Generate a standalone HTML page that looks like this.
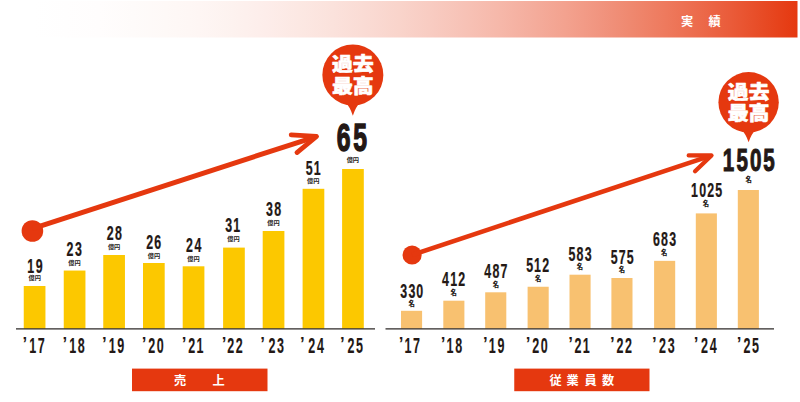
<!DOCTYPE html>
<html lang="ja">
<head>
<meta charset="utf-8">
<title>実績</title>
<style>
html,body{margin:0;padding:0;background:#fff;}
body{width:800px;height:402px;overflow:hidden;font-family:"Liberation Sans","Noto Sans CJK JP",sans-serif;}
svg{display:block;}
</style>
</head>
<body>
<svg width="800" height="402" viewBox="0 0 800 402">
<defs>
<linearGradient id="hg" x1="0" y1="0" x2="797.5" y2="0" gradientUnits="userSpaceOnUse">
<stop offset="0.0000" stop-color="#ffffff"/>
<stop offset="0.0417" stop-color="#ffffff"/>
<stop offset="0.0833" stop-color="#fffefe"/>
<stop offset="0.1250" stop-color="#fffdfd"/>
<stop offset="0.1667" stop-color="#fefbfa"/>
<stop offset="0.2083" stop-color="#fef9f7"/>
<stop offset="0.2500" stop-color="#fef6f4"/>
<stop offset="0.2917" stop-color="#fdf2ef"/>
<stop offset="0.3333" stop-color="#fdedea"/>
<stop offset="0.3750" stop-color="#fce8e3"/>
<stop offset="0.4167" stop-color="#fbe2dc"/>
<stop offset="0.4583" stop-color="#fadbd4"/>
<stop offset="0.5000" stop-color="#f9d4cb"/>
<stop offset="0.5417" stop-color="#f8cbc1"/>
<stop offset="0.5833" stop-color="#f7c2b6"/>
<stop offset="0.6250" stop-color="#f6b8aa"/>
<stop offset="0.6667" stop-color="#f4ad9d"/>
<stop offset="0.7083" stop-color="#f3a28f"/>
<stop offset="0.7500" stop-color="#f19580"/>
<stop offset="0.7917" stop-color="#ef886f"/>
<stop offset="0.8333" stop-color="#ee7a5e"/>
<stop offset="0.8750" stop-color="#ec6b4c"/>
<stop offset="0.9167" stop-color="#ea5b39"/>
<stop offset="0.9583" stop-color="#e74a24"/>
<stop offset="1.0000" stop-color="#e5380f"/>
</linearGradient>
</defs>
<rect x="0" y="1" width="797.5" height="36.5" fill="url(#hg)"/>
<text x="681.00 708.50" y="26.20" font-family='"Liberation Sans", "Noto Sans CJK JP", sans-serif' font-weight="bold" font-size="12.2" fill="#fff">実績</text>
<rect x="23.75" y="286.0" width="21.7" height="43.00" fill="#fcc800"/>
<rect x="63.75" y="270.55" width="21.7" height="58.45" fill="#fcc800"/>
<rect x="103.25" y="255.0" width="21.7" height="74.00" fill="#fcc800"/>
<rect x="143.00" y="263.0" width="21.7" height="66.00" fill="#fcc800"/>
<rect x="182.70" y="266.3" width="21.7" height="62.70" fill="#fcc800"/>
<rect x="223.10" y="247.6" width="21.7" height="81.40" fill="#fcc800"/>
<rect x="262.70" y="231.0" width="21.7" height="98.00" fill="#fcc800"/>
<rect x="302.60" y="188.8" width="21.7" height="140.20" fill="#fcc800"/>
<rect x="342.10" y="169.0" width="21.7" height="160.00" fill="#fcc800"/>
<rect x="16" y="328.2" width="359" height="1.35" fill="#3e3a39"/>
<text transform="translate(0,273.25) scale(0.63,1)" x="43.29 56.67" font-family='"Liberation Sans", sans-serif' font-weight="bold" font-size="19.7" fill="#231815" stroke="#231815" stroke-width="0.2" style="vector-effect:non-scaling-stroke">19</text>
<text transform="translate(34.65,279.75) scale(1,1)" text-anchor="middle" font-family='"Liberation Sans", "Noto Sans CJK JP", sans-serif' font-weight="bold" font-size="6.2" fill="#231815">億円</text>
<text transform="translate(0,256.00) scale(0.63,1)" x="105.71 119.08" font-family='"Liberation Sans", sans-serif' font-weight="bold" font-size="19.7" fill="#231815" stroke="#231815" stroke-width="0.2" style="vector-effect:non-scaling-stroke">23</text>
<text transform="translate(74.40,265.05) scale(1,1)" text-anchor="middle" font-family='"Liberation Sans", "Noto Sans CJK JP", sans-serif' font-weight="bold" font-size="6.2" fill="#231815">億円</text>
<text transform="translate(0,240.05) scale(0.63,1)" x="169.31 182.51" font-family='"Liberation Sans", sans-serif' font-weight="bold" font-size="19.7" fill="#231815" stroke="#231815" stroke-width="0.2" style="vector-effect:non-scaling-stroke">28</text>
<text transform="translate(114.10,249.25) scale(1,1)" text-anchor="middle" font-family='"Liberation Sans", "Noto Sans CJK JP", sans-serif' font-weight="bold" font-size="6.2" fill="#231815">億円</text>
<text transform="translate(0,248.75) scale(0.63,1)" x="231.96 245.05" font-family='"Liberation Sans", sans-serif' font-weight="bold" font-size="19.7" fill="#231815" stroke="#231815" stroke-width="0.2" style="vector-effect:non-scaling-stroke">26</text>
<text transform="translate(154.00,257.95) scale(1,1)" text-anchor="middle" font-family='"Liberation Sans", "Noto Sans CJK JP", sans-serif' font-weight="bold" font-size="6.2" fill="#231815">億円</text>
<text transform="translate(0,252.05) scale(0.63,1)" x="295.09 308.61" font-family='"Liberation Sans", sans-serif' font-weight="bold" font-size="19.7" fill="#231815" stroke="#231815" stroke-width="0.2" style="vector-effect:non-scaling-stroke">24</text>
<text transform="translate(193.55,260.95) scale(1,1)" text-anchor="middle" font-family='"Liberation Sans", "Noto Sans CJK JP", sans-serif' font-weight="bold" font-size="6.2" fill="#231815">億円</text>
<text transform="translate(0,231.90) scale(0.63,1)" x="357.61 370.26" font-family='"Liberation Sans", sans-serif' font-weight="bold" font-size="19.7" fill="#231815" stroke="#231815" stroke-width="0.2" style="vector-effect:non-scaling-stroke">31</text>
<text transform="translate(233.40,240.90) scale(1,1)" text-anchor="middle" font-family='"Liberation Sans", "Noto Sans CJK JP", sans-serif' font-weight="bold" font-size="6.2" fill="#231815">億円</text>
<text transform="translate(0,215.50) scale(0.63,1)" x="422.09 435.36" font-family='"Liberation Sans", sans-serif' font-weight="bold" font-size="19.7" fill="#231815" stroke="#231815" stroke-width="0.2" style="vector-effect:non-scaling-stroke">38</text>
<text transform="translate(273.50,224.50) scale(1,1)" text-anchor="middle" font-family='"Liberation Sans", "Noto Sans CJK JP", sans-serif' font-weight="bold" font-size="6.2" fill="#231815">億円</text>
<text transform="translate(0,175.00) scale(0.63,1)" x="485.39 498.20" font-family='"Liberation Sans", sans-serif' font-weight="bold" font-size="19.7" fill="#231815" stroke="#231815" stroke-width="0.2" style="vector-effect:non-scaling-stroke">51</text>
<text transform="translate(313.30,183.40) scale(1,1)" text-anchor="middle" font-family='"Liberation Sans", "Noto Sans CJK JP", sans-serif' font-weight="bold" font-size="6.2" fill="#231815">億円</text>
<text transform="translate(0,150.50) scale(0.635,1)" x="530.39 556.24" font-family='"Liberation Sans", sans-serif' font-weight="bold" font-size="39.0" fill="#231815" stroke="#231815" stroke-width="1.2" style="vector-effect:non-scaling-stroke">65</text>
<text transform="translate(352.85,162.00) scale(1,1)" text-anchor="middle" font-family='"Liberation Sans", "Noto Sans CJK JP", sans-serif' font-weight="bold" font-size="6.2" fill="#231815">億円</text>
<text transform="translate(0,350.30) scale(0.95,1)" x="23.80" font-family='"Liberation Sans", sans-serif' font-weight="bold" font-size="17.6" fill="#231815">’</text>
<text transform="translate(0,352.90) scale(0.585,1)" x="49.93 64.42" font-family='"Liberation Sans", sans-serif' font-weight="bold" font-size="21.4" fill="#231815" stroke="#231815" stroke-width="0.1" style="vector-effect:non-scaling-stroke">17</text>
<text transform="translate(0,350.30) scale(0.95,1)" x="65.91" font-family='"Liberation Sans", sans-serif' font-weight="bold" font-size="17.6" fill="#231815">’</text>
<text transform="translate(0,352.90) scale(0.585,1)" x="118.31 133.04" font-family='"Liberation Sans", sans-serif' font-weight="bold" font-size="21.4" fill="#231815" stroke="#231815" stroke-width="0.1" style="vector-effect:non-scaling-stroke">18</text>
<text transform="translate(0,350.30) scale(0.95,1)" x="107.49" font-family='"Liberation Sans", sans-serif' font-weight="bold" font-size="17.6" fill="#231815">’</text>
<text transform="translate(0,352.90) scale(0.585,1)" x="185.83 200.50" font-family='"Liberation Sans", sans-serif' font-weight="bold" font-size="21.4" fill="#231815" stroke="#231815" stroke-width="0.1" style="vector-effect:non-scaling-stroke">19</text>
<text transform="translate(0,350.30) scale(0.95,1)" x="149.33" font-family='"Liberation Sans", sans-serif' font-weight="bold" font-size="17.6" fill="#231815">’</text>
<text transform="translate(0,352.90) scale(0.585,1)" x="253.53 267.83" font-family='"Liberation Sans", sans-serif' font-weight="bold" font-size="21.4" fill="#231815" stroke="#231815" stroke-width="0.1" style="vector-effect:non-scaling-stroke">20</text>
<text transform="translate(0,350.30) scale(0.95,1)" x="191.44" font-family='"Liberation Sans", sans-serif' font-weight="bold" font-size="17.6" fill="#231815">’</text>
<text transform="translate(0,352.90) scale(0.585,1)" x="321.91 335.71" font-family='"Liberation Sans", sans-serif' font-weight="bold" font-size="21.4" fill="#231815" stroke="#231815" stroke-width="0.1" style="vector-effect:non-scaling-stroke">21</text>
<text transform="translate(0,350.30) scale(0.95,1)" x="233.54" font-family='"Liberation Sans", sans-serif' font-weight="bold" font-size="17.6" fill="#231815">’</text>
<text transform="translate(0,352.90) scale(0.585,1)" x="388.49 402.89" font-family='"Liberation Sans", sans-serif' font-weight="bold" font-size="21.4" fill="#231815" stroke="#231815" stroke-width="0.1" style="vector-effect:non-scaling-stroke">22</text>
<text transform="translate(0,350.30) scale(0.95,1)" x="273.86" font-family='"Liberation Sans", sans-serif' font-weight="bold" font-size="17.6" fill="#231815">’</text>
<text transform="translate(0,352.90) scale(0.585,1)" x="458.92 473.57" font-family='"Liberation Sans", sans-serif' font-weight="bold" font-size="21.4" fill="#231815" stroke="#231815" stroke-width="0.1" style="vector-effect:non-scaling-stroke">23</text>
<text transform="translate(0,350.30) scale(0.95,1)" x="315.91" font-family='"Liberation Sans", sans-serif' font-weight="bold" font-size="17.6" fill="#231815">’</text>
<text transform="translate(0,352.90) scale(0.585,1)" x="527.04 541.86" font-family='"Liberation Sans", sans-serif' font-weight="bold" font-size="21.4" fill="#231815" stroke="#231815" stroke-width="0.1" style="vector-effect:non-scaling-stroke">24</text>
<text transform="translate(0,350.30) scale(0.95,1)" x="358.02" font-family='"Liberation Sans", sans-serif' font-weight="bold" font-size="17.6" fill="#231815">’</text>
<text transform="translate(0,352.90) scale(0.585,1)" x="594.13 608.62" font-family='"Liberation Sans", sans-serif' font-weight="bold" font-size="21.4" fill="#231815" stroke="#231815" stroke-width="0.1" style="vector-effect:non-scaling-stroke">25</text>
<rect x="132" y="368.6" width="135.5" height="22.6" fill="#e5380f"/>
<text x="174.00 212.50" y="384.60" font-family='"Liberation Sans", "Noto Sans CJK JP", sans-serif' font-weight="bold" font-size="12.2" fill="#fff">売上</text>
<circle cx="32.4" cy="231.0" r="10.8" fill="#e5380f"/>
<line x1="32.5" y1="228.7" x2="314.70" y2="137.02" stroke="#e5380f" stroke-width="5.0" stroke-linecap="butt"/>
<polyline points="296.92,152.62 316.6,136.4 291.15,134.84" fill="none" stroke="#e5380f" stroke-width="4.7" stroke-linecap="round" stroke-linejoin="round"/>
<circle cx="352.85" cy="75.0" r="30.5" fill="#e5380f"/>
<path d="M345.35 102.50 Q349.95 106.50 352.85 115.8 Q355.75 106.50 360.35 102.50 Z" fill="#e5380f"/>
<text transform="translate(352.85,71.40) scale(1.07,1)" text-anchor="middle" font-family='"Liberation Sans", "Noto Sans CJK JP", sans-serif' font-weight="900" font-size="19.6" fill="#fff" stroke="#fff" stroke-width="0.55" stroke-linejoin="round">過去</text>
<text transform="translate(352.85,92.70) scale(1.07,1)" text-anchor="middle" font-family='"Liberation Sans", "Noto Sans CJK JP", sans-serif' font-weight="900" font-size="19.6" fill="#fff" stroke="#fff" stroke-width="0.55" stroke-linejoin="round">最高</text>
<rect x="401.00" y="310.8" width="21.1" height="18.20" fill="#f8c170"/>
<rect x="443.30" y="300.7" width="21.1" height="28.30" fill="#f8c170"/>
<rect x="485.20" y="292.3" width="21.1" height="36.70" fill="#f8c170"/>
<rect x="527.60" y="286.75" width="21.1" height="42.25" fill="#f8c170"/>
<rect x="569.50" y="274.7" width="21.1" height="54.30" fill="#f8c170"/>
<rect x="611.40" y="278.0" width="21.1" height="51.00" fill="#f8c170"/>
<rect x="654.10" y="260.85" width="21.1" height="68.15" fill="#f8c170"/>
<rect x="695.80" y="213.4" width="21.1" height="115.60" fill="#f8c170"/>
<rect x="737.80" y="190.0" width="21.1" height="139.00" fill="#f8c170"/>
<rect x="385.5" y="328.2" width="388.5" height="1.35" fill="#3e3a39"/>
<text transform="translate(0,297.75) scale(0.63,1)" x="635.31 648.28 660.92" font-family='"Liberation Sans", sans-serif' font-weight="bold" font-size="19.7" fill="#231815" stroke="#231815" stroke-width="0.2" style="vector-effect:non-scaling-stroke">330</text>
<text transform="translate(411.70,305.95) scale(1,1)" text-anchor="middle" font-family='"Liberation Sans", "Noto Sans CJK JP", sans-serif' font-weight="900" font-size="6.3" fill="#231815">名</text>
<text transform="translate(0,286.20) scale(0.63,1)" x="701.77 714.55 727.45" font-family='"Liberation Sans", sans-serif' font-weight="bold" font-size="19.7" fill="#231815" stroke="#231815" stroke-width="0.2" style="vector-effect:non-scaling-stroke">412</text>
<text transform="translate(453.70,295.00) scale(1,1)" text-anchor="middle" font-family='"Liberation Sans", "Noto Sans CJK JP", sans-serif' font-weight="900" font-size="6.3" fill="#231815">名</text>
<text transform="translate(0,277.80) scale(0.63,1)" x="768.51 781.91 794.59" font-family='"Liberation Sans", sans-serif' font-weight="bold" font-size="19.7" fill="#231815" stroke="#231815" stroke-width="0.2" style="vector-effect:non-scaling-stroke">487</text>
<text transform="translate(496.00,286.90) scale(1,1)" text-anchor="middle" font-family='"Liberation Sans", "Noto Sans CJK JP", sans-serif' font-weight="900" font-size="6.3" fill="#231815">名</text>
<text transform="translate(0,272.25) scale(0.63,1)" x="835.33 847.67 860.57" font-family='"Liberation Sans", sans-serif' font-weight="bold" font-size="19.7" fill="#231815" stroke="#231815" stroke-width="0.2" style="vector-effect:non-scaling-stroke">512</text>
<text transform="translate(538.10,280.90) scale(1,1)" text-anchor="middle" font-family='"Liberation Sans", "Noto Sans CJK JP", sans-serif' font-weight="900" font-size="6.3" fill="#231815">名</text>
<text transform="translate(0,261.00) scale(0.63,1)" x="902.19 915.15 928.23" font-family='"Liberation Sans", sans-serif' font-weight="bold" font-size="19.7" fill="#231815" stroke="#231815" stroke-width="0.2" style="vector-effect:non-scaling-stroke">583</text>
<text transform="translate(579.85,269.20) scale(1,1)" text-anchor="middle" font-family='"Liberation Sans", "Noto Sans CJK JP", sans-serif' font-weight="900" font-size="6.3" fill="#231815">名</text>
<text transform="translate(0,263.70) scale(0.63,1)" x="969.34 982.07 994.73" font-family='"Liberation Sans", sans-serif' font-weight="bold" font-size="19.7" fill="#231815" stroke="#231815" stroke-width="0.2" style="vector-effect:non-scaling-stroke">575</text>
<text transform="translate(622.00,271.90) scale(1,1)" text-anchor="middle" font-family='"Liberation Sans", "Noto Sans CJK JP", sans-serif' font-weight="900" font-size="6.3" fill="#231815">名</text>
<text transform="translate(0,246.10) scale(0.63,1)" x="1036.35 1049.14 1062.21" font-family='"Liberation Sans", sans-serif' font-weight="bold" font-size="19.7" fill="#231815" stroke="#231815" stroke-width="0.2" style="vector-effect:non-scaling-stroke">683</text>
<text transform="translate(664.05,255.20) scale(1,1)" text-anchor="middle" font-family='"Liberation Sans", "Noto Sans CJK JP", sans-serif' font-weight="900" font-size="6.3" fill="#231815">名</text>
<text transform="translate(0,197.20) scale(0.63,1)" x="1096.99 1109.79 1122.43 1135.17" font-family='"Liberation Sans", sans-serif' font-weight="bold" font-size="19.7" fill="#231815" stroke="#231815" stroke-width="0.2" style="vector-effect:non-scaling-stroke">1025</text>
<text transform="translate(706.00,205.50) scale(1,1)" text-anchor="middle" font-family='"Liberation Sans", "Noto Sans CJK JP", sans-serif' font-weight="900" font-size="6.3" fill="#231815">名</text>
<text transform="translate(0,170.60) scale(0.66,1)" x="1095.26 1115.93 1136.33 1156.59" font-family='"Liberation Sans", sans-serif' font-weight="bold" font-size="31.2" fill="#231815" stroke="#231815" stroke-width="0.9" style="vector-effect:non-scaling-stroke">1505</text>
<text transform="translate(748.65,182.20) scale(1,1)" text-anchor="middle" font-family='"Liberation Sans", "Noto Sans CJK JP", sans-serif' font-weight="900" font-size="6.3" fill="#231815">名</text>
<text transform="translate(0,350.30) scale(0.95,1)" x="419.86" font-family='"Liberation Sans", sans-serif' font-weight="bold" font-size="17.6" fill="#231815">’</text>
<text transform="translate(0,352.90) scale(0.585,1)" x="691.47 705.96" font-family='"Liberation Sans", sans-serif' font-weight="bold" font-size="21.4" fill="#231815" stroke="#231815" stroke-width="0.1" style="vector-effect:non-scaling-stroke">17</text>
<text transform="translate(0,350.30) scale(0.95,1)" x="464.07" font-family='"Liberation Sans", sans-serif' font-weight="bold" font-size="17.6" fill="#231815">’</text>
<text transform="translate(0,352.90) scale(0.585,1)" x="763.27 778.00" font-family='"Liberation Sans", sans-serif' font-weight="bold" font-size="21.4" fill="#231815" stroke="#231815" stroke-width="0.1" style="vector-effect:non-scaling-stroke">18</text>
<text transform="translate(0,350.30) scale(0.95,1)" x="508.54" font-family='"Liberation Sans", sans-serif' font-weight="bold" font-size="17.6" fill="#231815">’</text>
<text transform="translate(0,352.90) scale(0.585,1)" x="835.57 850.24" font-family='"Liberation Sans", sans-serif' font-weight="bold" font-size="21.4" fill="#231815" stroke="#231815" stroke-width="0.1" style="vector-effect:non-scaling-stroke">19</text>
<text transform="translate(0,350.30) scale(0.95,1)" x="553.54" font-family='"Liberation Sans", sans-serif' font-weight="bold" font-size="17.6" fill="#231815">’</text>
<text transform="translate(0,352.90) scale(0.585,1)" x="910.03 924.33" font-family='"Liberation Sans", sans-serif' font-weight="bold" font-size="21.4" fill="#231815" stroke="#231815" stroke-width="0.1" style="vector-effect:non-scaling-stroke">20</text>
<text transform="translate(0,350.30) scale(0.95,1)" x="598.28" font-family='"Liberation Sans", sans-serif' font-weight="bold" font-size="17.6" fill="#231815">’</text>
<text transform="translate(0,352.90) scale(0.585,1)" x="982.16 995.96" font-family='"Liberation Sans", sans-serif' font-weight="bold" font-size="21.4" fill="#231815" stroke="#231815" stroke-width="0.1" style="vector-effect:non-scaling-stroke">21</text>
<text transform="translate(0,350.30) scale(0.95,1)" x="642.23" font-family='"Liberation Sans", sans-serif' font-weight="bold" font-size="17.6" fill="#231815">’</text>
<text transform="translate(0,352.90) scale(0.585,1)" x="1053.96 1068.36" font-family='"Liberation Sans", sans-serif' font-weight="bold" font-size="21.4" fill="#231815" stroke="#231815" stroke-width="0.1" style="vector-effect:non-scaling-stroke">22</text>
<text transform="translate(0,350.30) scale(0.95,1)" x="686.44" font-family='"Liberation Sans", sans-serif' font-weight="bold" font-size="17.6" fill="#231815">’</text>
<text transform="translate(0,352.90) scale(0.585,1)" x="1126.61 1141.26" font-family='"Liberation Sans", sans-serif' font-weight="bold" font-size="21.4" fill="#231815" stroke="#231815" stroke-width="0.1" style="vector-effect:non-scaling-stroke">23</text>
<text transform="translate(0,350.30) scale(0.95,1)" x="730.38" font-family='"Liberation Sans", sans-serif' font-weight="bold" font-size="17.6" fill="#231815">’</text>
<text transform="translate(0,352.90) scale(0.585,1)" x="1198.40 1213.23" font-family='"Liberation Sans", sans-serif' font-weight="bold" font-size="21.4" fill="#231815" stroke="#231815" stroke-width="0.1" style="vector-effect:non-scaling-stroke">24</text>
<text transform="translate(0,350.30) scale(0.95,1)" x="775.44" font-family='"Liberation Sans", sans-serif' font-weight="bold" font-size="17.6" fill="#231815">’</text>
<text transform="translate(0,352.90) scale(0.585,1)" x="1271.05 1285.54" font-family='"Liberation Sans", sans-serif' font-weight="bold" font-size="21.4" fill="#231815" stroke="#231815" stroke-width="0.1" style="vector-effect:non-scaling-stroke">25</text>
<rect x="514.25" y="368.6" width="135.25" height="22.6" fill="#e5380f"/>
<text x="549.40 566.40 584.40 602.10" y="384.60" font-family='"Liberation Sans", "Noto Sans CJK JP", sans-serif' font-weight="bold" font-size="12.2" fill="#fff">従業員数</text>
<circle cx="412.1" cy="255.0" r="9.6" fill="#e5380f"/>
<line x1="412.1" y1="254.9" x2="709.60" y2="156.13" stroke="#e5380f" stroke-width="4.7" stroke-linecap="butt"/>
<polyline points="695.06,171.30 711.5,155.5 688.70,155.45" fill="none" stroke="#e5380f" stroke-width="4.3" stroke-linecap="round" stroke-linejoin="round"/>
<circle cx="748.6" cy="102.3" r="30.2" fill="#e5380f"/>
<path d="M741.10 129.50 Q745.70 133.50 748.60 142.3 Q751.50 133.50 756.10 129.50 Z" fill="#e5380f"/>
<text transform="translate(748.60,99.20) scale(1.07,1)" text-anchor="middle" font-family='"Liberation Sans", "Noto Sans CJK JP", sans-serif' font-weight="900" font-size="19.6" fill="#fff" stroke="#fff" stroke-width="0.55" stroke-linejoin="round">過去</text>
<text transform="translate(748.60,119.90) scale(1.07,1)" text-anchor="middle" font-family='"Liberation Sans", "Noto Sans CJK JP", sans-serif' font-weight="900" font-size="19.6" fill="#fff" stroke="#fff" stroke-width="0.55" stroke-linejoin="round">最高</text>
</svg>
</body>
</html>
